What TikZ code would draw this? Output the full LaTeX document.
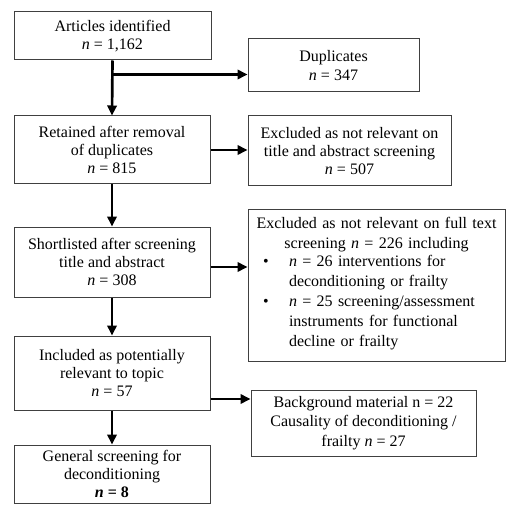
\documentclass[tikz,border=0pt]{standalone}
\usepackage{fontspec}
\setmainfont{Liberation Serif}
\usetikzlibrary{arrows.meta,calc}
\begin{document}
\begin{tikzpicture}[x=0.75pt,y=-0.75pt,
  box/.style={draw=black!75, line width=0.75pt, inner sep=0pt, align=center,
    font=\fontsize{12}{13.8}\selectfont},
  arr/.style={line width=2pt, -{Triangle[length=7.5pt,width=7pt]}}]
\useasboundingbox[fill=white] (0,0) rectangle (517,520);

\node[box, minimum width=147.75pt, minimum height=36pt] (A) at (112.5,36)
  {Articles identified\\ \textit{n} = 1,162};
\node[box, minimum width=128.25pt, minimum height=39.75pt] (Dup) at (333.5,65.5)
  {Duplicates\\ \textit{n} = 347};
\node[box, minimum width=147pt, minimum height=51pt] (B) at (112,150)
  {Retained after removal\\ of duplicates\\ \textit{n} = 815};
\node[box, minimum width=152.25pt, minimum height=52.5pt] (E1) at (349.5,151)
  {Excluded as not relevant on\\ title and abstract screening\\ \textit{n} = 507};
\node[box, minimum width=147pt, minimum height=52.5pt] (C) at (112,262)
  {Shortlisted after screening\\ title and abstract\\ \textit{n} = 308};
\node[box, minimum width=192.75pt, minimum height=114pt, text width=192.75pt,
  font=\fontsize{12}{15}\selectfont] (E2) at (376.5,285)
  {Excluded as not relevant on full text\\ screening \textit{n} = 226 including\\[-0.5pt]
   \begin{tabular}{@{\hspace{11.25pt}}p{19.5pt}@{}p{162pt}@{}}
   \textbullet & \textit{n} = 26 interventions for\\
   & deconditioning or frailty\\
   \textbullet & \textit{n} = 25 screening/assessment\\
   & instruments for functional\\
   & decline or frailty
   \end{tabular}};
\node[box, minimum width=147pt, minimum height=55.5pt] (D) at (112,373)
  {Included as potentially\\ relevant to topic\\ \textit{n} = 57};
\node[box, minimum width=168.75pt, minimum height=49.5pt,
  font=\fontsize{12}{14.6}\selectfont] (BG) at (363.5,423)
  {Background material n = 22\\ Causality of deconditioning /\\ frailty \textit{n} = 27};
\node[box, minimum width=147pt, minimum height=43.5pt] (G) at (112,474)
  {General screening for\\ deconditioning\\ \textbf{\textit{n} = 8}};

\coordinate (br) at ($(A.south)+(0,14)$);
\draw[arr] (A.south) -- (B.north);
\draw[arr] (br) -- (br -| Dup.west);
\draw[arr] (B.east) -- (B.east -| E1.west);
\draw[arr] (B.south) -- (C.north);
\draw[arr] ([yshift=-3.75pt]C.east) -- ([yshift=-3.75pt]C.east -| E2.west);
\draw[arr] (C.south) -- (D.north);
\draw[arr] ([yshift=-19.5pt]D.east) -- ([yshift=-19.5pt]D.east -| BG.west);
\draw[arr] (D.south) -- (G.north);
\end{tikzpicture}
\end{document}
